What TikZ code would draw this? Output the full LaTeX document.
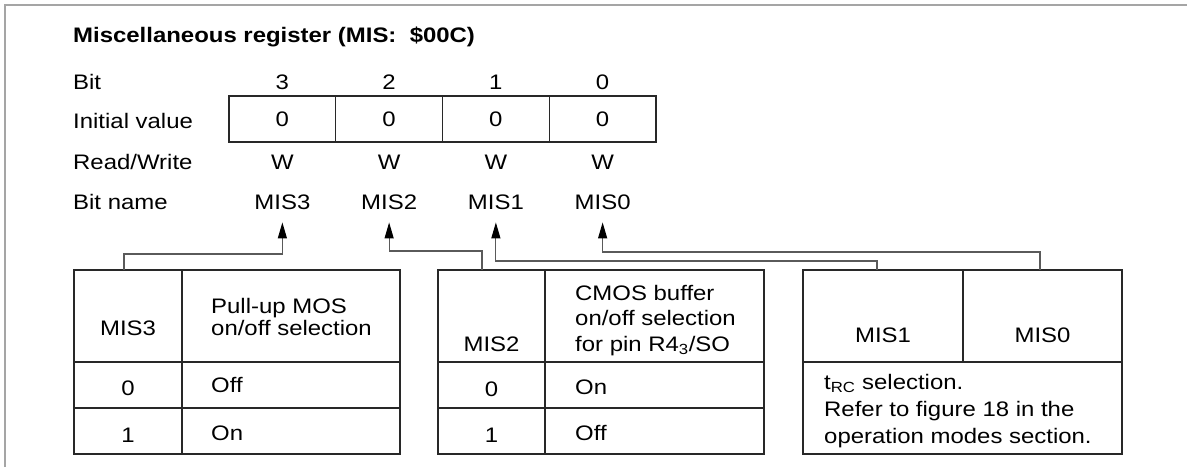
\documentclass[tikz,border=0pt]{standalone}
\usepackage{fontspec}
\setmainfont{Liberation Sans}[FakeStretch=1.14]
\usetikzlibrary{positioning,arrows.meta}
\definecolor{MISFrame}{RGB}{165,165,165}
\definecolor{MISLine}{RGB}{40,40,40}
\definecolor{MISLead}{RGB}{90,90,90}

\begin{document}
\begin{tikzpicture}[x=1pt,y=-1pt,
font=\fontsize{21}{26}\selectfont,
txt/.style={anchor=base west,inner sep=0pt},
mid/.style={anchor=base,inner sep=0pt},
bitcell/.style={rectangle,draw=MISLine,line width=1.2pt,minimum width=106.75pt,
minimum height=46pt,inner sep=0pt,outer sep=0pt},
bitname/.style={anchor=base,inner xsep=0pt,inner ysep=13pt},
tbl/.style={rectangle,draw=MISLine,line width=1.2pt,minimum height=184pt,
inner sep=0pt,outer sep=0pt,anchor=north west},
rule/.style={draw=MISLine,line width=1.2pt},
lead/.style={-{Triangle[length=16pt,width=9pt,color=black]},draw=MISLead,line width=1.2pt}
]
\useasboundingbox (0,0) rectangle (1187,467);
\draw[draw=MISFrame,line width=2pt] (5,467) -- (5,5) -- (1187,5);

\node[txt,font=\fontsize{21}{26}\selectfont\bfseries] (title) at (73,42) {Miscellaneous register (MIS:\ \ \$00C)};
\node[txt] (lbit) at (73,89.5) {Bit};
\node[txt] (linit) at (73,128) {Initial value};
\node[txt] (lrw) at (73,169) {Read/Write};
\node[txt] (lname) at (73,209) {Bit name};

\node[bitcell,anchor=north west] (v3) at (229,96) {0};
\node[bitcell,right=0pt of v3] (v2) {0};
\node[bitcell,right=0pt of v2] (v1) {0};
\node[bitcell,right=0pt of v1] (v0) {0};

\node[mid] (b3) at (v3 |- 0,89.5) {3};
\node[mid] (b2) at (v2 |- 0,89.5) {2};
\node[mid] (b1) at (v1 |- 0,89.5) {1};
\node[mid] (b0) at (v0 |- 0,89.5) {0};
\node[mid] (w3) at (v3 |- 0,169) {W};
\node[mid] (w2) at (v2 |- 0,169) {W};
\node[mid] (w1) at (v1 |- 0,169) {W};
\node[mid] (w0) at (v0 |- 0,169) {W};
\node[bitname] (n3) at (v3 |- 0,209) {MIS3};
\node[bitname] (n2) at (v2 |- 0,209) {MIS2};
\node[bitname] (n1) at (v1 |- 0,209) {MIS1};
\node[bitname] (n0) at (v0 |- 0,209) {MIS0};

\node[tbl,minimum width=326pt] (tab3) at (74,270) {};
\node[tbl,minimum width=326pt] (tab2) at (438,270) {};
\node[tbl,minimum width=319pt] (tab10) at (803,270) {};
\draw[rule] ([xshift=108pt]tab3.north west) -- ([xshift=108pt]tab3.south west);
\draw[rule] ([yshift=-92pt]tab3.north west) -- ([yshift=-92pt]tab3.north east);
\draw[rule] ([yshift=-138pt]tab3.north west) -- ([yshift=-138pt]tab3.north east);
\draw[rule] ([xshift=107pt]tab2.north west) -- ([xshift=107pt]tab2.south west);
\draw[rule] ([yshift=-92pt]tab2.north west) -- ([yshift=-92pt]tab2.north east);
\draw[rule] ([yshift=-138pt]tab2.north west) -- ([yshift=-138pt]tab2.north east);
\draw[rule] ([xshift=160pt]tab10.north west) -- ([xshift=160pt,yshift=-92pt]tab10.north west);
\draw[rule] ([yshift=-92pt]tab10.north west) -- ([yshift=-92pt]tab10.north east);

\node[mid] (m3) at (128,335) {MIS3};
\node[txt] (d3a) at (211,313) {Pull-up MOS};
\node[txt] (d3b) at (211,335) {on/off selection};
\node[mid] (r3a) at (128,395) {0};
\node[txt] (s3a) at (211,392) {Off};
\node[mid] (r3b) at (128,442) {1};
\node[txt] (s3b) at (211,440) {On};

\node[mid] (m2) at (491.5,351) {MIS2};
\node[txt] (d2a) at (575,300) {CMOS buffer};
\node[txt] (d2b) at (575,325.5) {on/off selection};
\node[txt] (d2c) at (575,351) {for pin R4\textsubscript{3}/SO};
\node[mid] (r2a) at (491.5,396) {0};
\node[txt] (s2a) at (575,394) {On};
\node[mid] (r2b) at (491.5,442) {1};
\node[txt] (s2b) at (575,440) {Off};

\node[mid] (m1) at (883,342) {MIS1};
\node[mid] (m0) at (1042.5,342) {MIS0};
\node[txt] (d10a) at (824,389) {t\textsubscript{RC} selection.};
\node[txt] (d10b) at (824,416) {Refer to figure 18 in the};
\node[txt] (d10c) at (824,443) {operation modes section.};

\coordinate (k3) at (124,254);
\coordinate (k2) at (482,251);
\coordinate (k1) at (877,261);
\coordinate (k0) at (1040,252);
\draw[lead] (k3 |- tab3.north) -- (k3) -| (n3.south);
\draw[lead] (k2 |- tab2.north) -- (k2) -| (n2.south);
\draw[lead] (k1 |- tab10.north) -- (k1) -| (n1.south);
\draw[lead] (k0 |- tab10.north) -- (k0) -| (n0.south);
\end{tikzpicture}
\end{document}
